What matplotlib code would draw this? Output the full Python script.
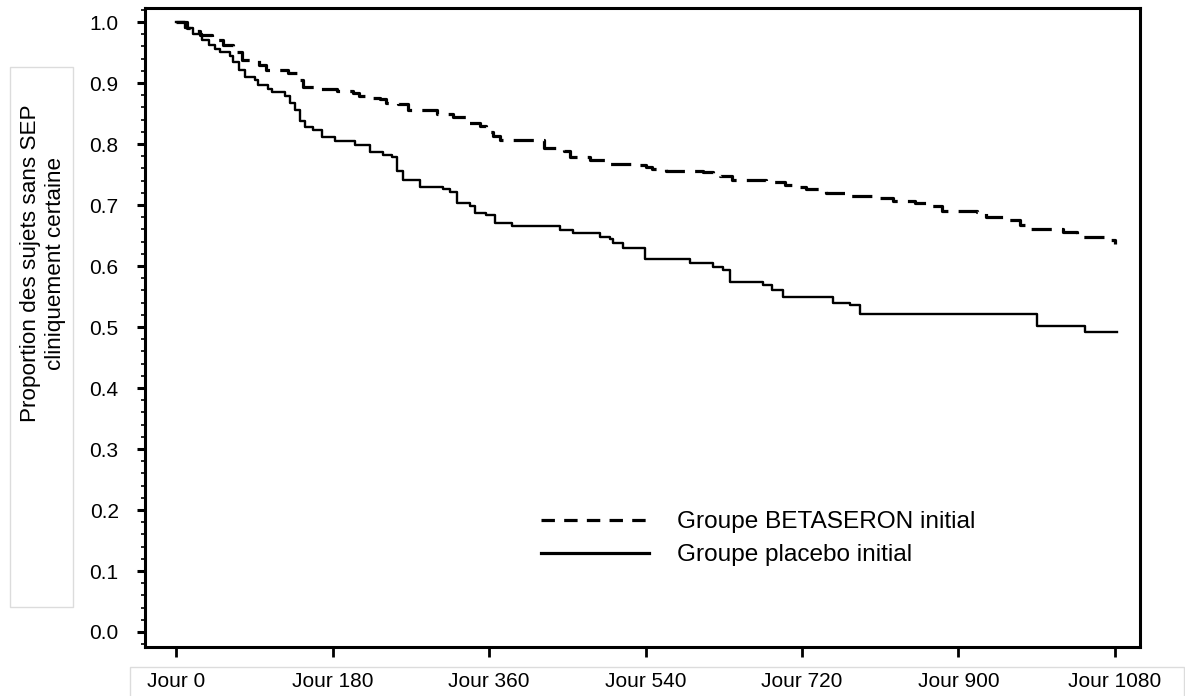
import numpy as np
import matplotlib.pyplot as plt
from matplotlib.patches import Rectangle
from matplotlib.lines import Line2D
from matplotlib.ticker import MultipleLocator

plt.rcParams['font.family'] = ['Liberation Sans', 'DejaVu Sans']

# Kaplan-Meier steps (day, proportion after the step)
beta_days = [0, 12, 18, 28, 41, 54, 66, 76, 95, 104, 129, 141, 146, 166, 185, 204, 210, 221,
             235, 242, 255, 267, 288, 300, 319, 336, 350, 357, 365, 373, 423, 446, 453, 476,
             495, 526, 541, 547, 564, 606, 618, 626, 639, 679, 700, 716, 725, 748, 773, 810,
             825, 850, 867, 881, 921, 932, 955, 971, 978, 1020, 1036, 1076, 1080]
beta_vals = [1.0, 0.99, 0.985, 0.979, 0.970, 0.962, 0.951, 0.938, 0.930, 0.921, 0.916, 0.905,
             0.894, 0.891, 0.887, 0.883, 0.878, 0.876, 0.873, 0.867, 0.865, 0.856, 0.855, 0.850,
             0.844, 0.834, 0.830, 0.820, 0.813, 0.807, 0.794, 0.789, 0.778, 0.774, 0.767, 0.765,
             0.763, 0.759, 0.756, 0.754, 0.751, 0.747, 0.741, 0.738, 0.733, 0.730, 0.726, 0.720,
             0.714, 0.711, 0.706, 0.703, 0.698, 0.690, 0.688, 0.681, 0.675, 0.667, 0.661, 0.655,
             0.648, 0.643, 0.636]

plac_days = [0, 10, 20, 30, 38, 45, 51, 62, 66, 72, 79, 91, 94, 106, 110, 125, 131, 137, 143,
             148, 158, 168, 183, 206, 223, 238, 248, 254, 261, 281, 307, 315, 323, 338, 344,
             357, 367, 386, 442, 457, 488, 499, 503, 514, 539, 591, 618, 629, 637, 675, 685,
             698, 756, 775, 787, 990, 1045, 1082]
plac_vals = [1.0, 0.99, 0.98, 0.97, 0.962, 0.955, 0.951, 0.945, 0.935, 0.922, 0.91, 0.905,
             0.897, 0.89, 0.885, 0.879, 0.867, 0.856, 0.837, 0.828, 0.823, 0.812, 0.805, 0.798,
             0.787, 0.782, 0.779, 0.755, 0.741, 0.730, 0.727, 0.722, 0.703, 0.698, 0.687, 0.684,
             0.670, 0.665, 0.659, 0.654, 0.647, 0.644, 0.637, 0.629, 0.611, 0.605, 0.599, 0.593,
             0.574, 0.569, 0.561, 0.550, 0.539, 0.536, 0.522, 0.502, 0.492, 0.492]

xticks = [0, 180, 360, 540, 720, 900, 1080]
xlabels = ["Jour 0", "Jour 180", "Jour 360", "Jour 540", "Jour 720", "Jour 900", "Jour 1080"]
legend_labels = ["Groupe BETASERON initial", "Groupe placebo initial"]

fig = plt.figure(figsize=(11.85, 6.96), dpi=100)
ax = fig.add_axes([0.1224, 0.0704, 0.8396, 0.9181])

ax.plot(beta_days, beta_vals, drawstyle='steps-post', color='black', lw=2.3,
        dashes=(6.3, 3.2))
ax.plot(plac_days, plac_vals, drawstyle='steps-post', color='black', lw=1.7)

ax.set_xlim(-35.7, 1108.8)
ax.set_ylim(-0.0246, 1.023)
ax.set_xticks(xticks)
ax.set_xticklabels(xlabels)
ax.yaxis.set_major_locator(MultipleLocator(0.1))
ax.yaxis.set_minor_locator(MultipleLocator(0.02))
ax.yaxis.set_major_formatter(plt.FormatStrFormatter('%.1f'))

for s in ax.spines.values():
    s.set_linewidth(2.2)
ax.tick_params(axis='x', which='major', length=7, width=2, labelsize=15, pad=11)
ax.tick_params(axis='y', which='major', length=6, width=2.2, labelsize=15, pad=13)
ax.tick_params(axis='y', which='minor', length=3, width=1.2)

fig.text(0.0363, 0.622, "Proportion des sujets sans SEP\ncliniquement certaine",
         rotation=90, ha='center', va='center', multialignment='center', fontsize=16.2)

# faint boxes around the axis texts
fig.add_artist(Rectangle((10 / 1185, 1 - 607 / 696), 63 / 1185, 540 / 696,
                         transform=fig.transFigure, fill=False, ec='#dcdcdc', lw=1))
fig.add_artist(Rectangle((130 / 1185, -0.01), 1054 / 1185, 0.01 + 29 / 696,
                         transform=fig.transFigure, fill=False, ec='#dcdcdc', lw=1))

handles = [Line2D([], [], color='black', lw=2.3, dashes=(4.2, 2.9)),
           Line2D([], [], color='black', lw=2.3)]
ax.legend(handles, legend_labels, loc='upper left',
          bbox_to_anchor=(541 / 1185, 1 - 511 / 696),
          bbox_transform=fig.transFigure, frameon=False, fontsize=17.6,
          handlelength=4.4, handletextpad=1.15, labelspacing=0.46,
          borderpad=0, borderaxespad=0)

fig.savefig("out.png", dpi=100)
